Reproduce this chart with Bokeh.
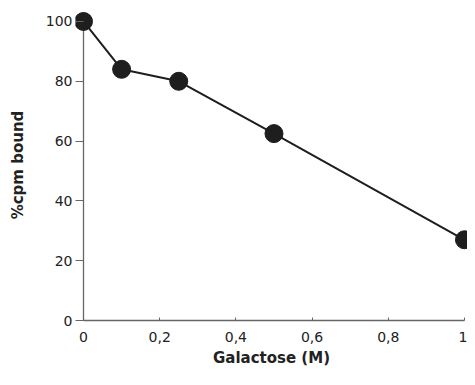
from bokeh.plotting import figure
from bokeh.models import FixedTicker, ColumnDataSource
from bokeh.embed import file_html
from bokeh.resources import INLINE

# Data
galactose = [0.0, 0.1, 0.25, 0.5, 1.0]
cpm_bound = [100.0, 84.0, 80.0, 62.5, 27.0]

x_ticks = [0, 0.2, 0.4, 0.6, 0.8, 1.0]
x_tick_labels = ["0", "0,2", "0,4", "0,6", "0,8", "1"]
y_ticks = [0, 20, 40, 60, 80, 100]
y_tick_labels = ["0", "20", "40", "60", "80", "100"]

src = ColumnDataSource(dict(x=galactose, y=cpm_bound))

p = figure(width=467, height=369, x_range=(-0.021, 1.008), y_range=(0, 104),
           output_backend="svg", toolbar_location=None,
           min_border_left=75, min_border_right=0, min_border_top=9, min_border_bottom=49)
p.outline_line_color = None
p.grid.visible = False
p.background_fill_color = "white"
p.border_fill_color = "white"

axis_col = "#666666"
# y axis line drawn at x = 0 (the frame extends a little to the left so the first marker is not cut)
p.segment(x0=[x_ticks[0]], y0=[y_ticks[0]], x1=[x_ticks[0]], y1=[y_ticks[-1]],
          line_color=axis_col, line_width=1.3)

p.line("x", "y", source=src, line_color="#1e1e1e", line_width=2)
p.scatter("x", "y", source=src, size=18, fill_color="#1e1e1e", line_color="#1e1e1e")

font = "DejaVu Sans"
p.xaxis.ticker = FixedTicker(ticks=x_ticks)
p.xaxis.major_label_overrides = {t: l for t, l in zip(x_ticks, x_tick_labels)}
p.yaxis.ticker = FixedTicker(ticks=y_ticks)
p.yaxis.major_label_overrides = {t: l for t, l in zip(y_ticks, y_tick_labels)}
p.xaxis.bounds = (0, 1)

for ax in (p.xaxis[0], p.yaxis[0]):
    ax.axis_line_color = axis_col
    ax.axis_line_width = 1.3
    ax.major_tick_line_color = axis_col
    ax.minor_tick_line_color = None
    ax.major_label_text_font = font
    ax.major_label_text_font_size = "14px"
    ax.major_label_text_color = "#222222"
    ax.axis_label_text_font = font
    ax.axis_label_text_font_size = "15px"
    ax.axis_label_text_font_style = "bold"
    ax.axis_label_text_color = "#222222"

p.yaxis.axis_line_color = None
p.xaxis.axis_label = "Galactose (M)"
p.yaxis.axis_label = "%cpm bound"
p.xaxis.major_tick_out = 0
p.xaxis.major_tick_in = 3
p.xaxis.major_label_standoff = 11
p.xaxis.axis_label_standoff = 4
p.yaxis.major_tick_out = 0
p.yaxis.major_tick_in = 8
p.yaxis.major_label_standoff = 3
p.yaxis.axis_label_standoff = 16

open("out.html", "w").write(file_html(p, INLINE))
